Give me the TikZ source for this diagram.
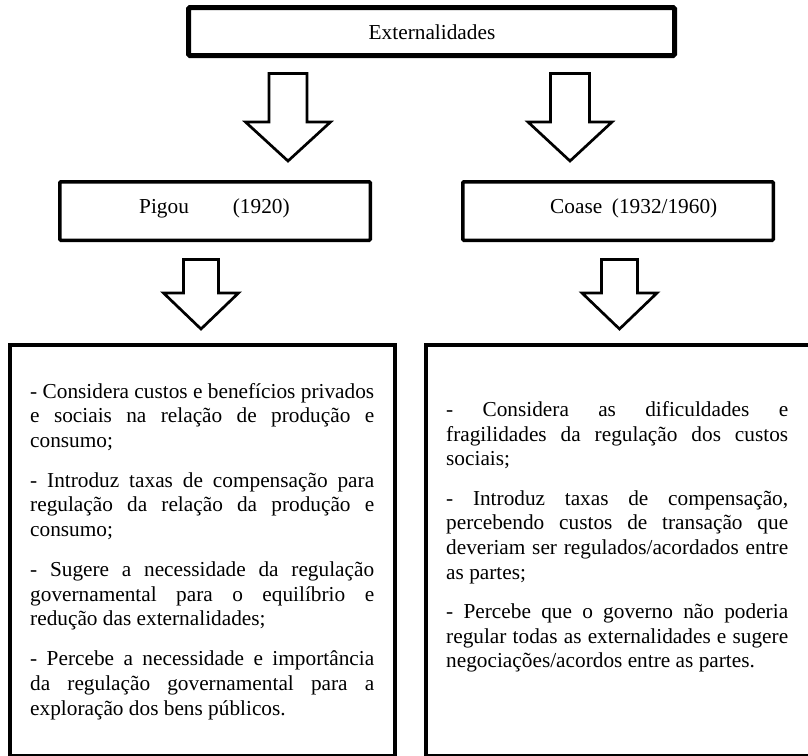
\documentclass[tikz,border=0pt]{standalone}
\usepackage{fontspec}
\setmainfont{Liberation Serif}
\tolerance=10000
\hbadness=10000
\hyphenpenalty=10000
\newcommand{\blkarrow}[6]{%
  \draw[blockarr] ({#1-#5},#2) -- ({#1+#5},#2) -- ({#1+#5},#3) -- ({#1+#6},#3)
    -- (#1,#4) -- ({#1-#6},#3) -- ({#1-#5},#3) -- cycle;}
\begin{document}
\begin{tikzpicture}[x=1pt,y=-1pt,
  thickbox/.style={draw=black,line width=5pt,rounded corners=1.5pt,inner sep=0pt},
  midbox/.style={draw=black,line width=3.5pt,rounded corners=1pt,inner sep=0pt},
  bigbox/.style={draw=black,line width=4pt,inner sep=0pt},
  blockarr/.style={draw=black,fill=white,line width=2.7pt,line join=miter},
  lbl/.style={inner sep=0pt,font=\fontsize{21.3}{24.6}\selectfont},
]
\useasboundingbox (0,0) rectangle (808,755);
\clip (0,0) rectangle (808,755);

% boxes
\node[thickbox,minimum width=486pt,minimum height=48pt] (ext) at (431.5,31.5) {};
\node[midbox,minimum width=310.5pt,minimum height=58.5pt] (pigou) at (215,211) {};
\node[midbox,minimum width=310.5pt,minimum height=58.5pt] (coase) at (618,211) {};
\node[bigbox,minimum width=385pt,minimum height=410.5pt] (pigoubox) at (202.5,550.25) {};
\node[bigbox,minimum width=389.5pt,minimum height=410.5pt] (coasebox) at (620.25,550.25) {};

% labels
\node[lbl,anchor=base] (extlbl) at (432,39) {Externalidades};
\node[lbl,anchor=base west] (pigoulbl) at (139,213) {Pigou\hspace{44pt}(1920)};
\node[lbl,anchor=base west] (coaselbl) at (550,213) {Coase\hspace{9.7pt}(1932/1960)};

% block arrows
\blkarrow{288}{73.5}{122}{161}{19}{42.5}
\blkarrow{570}{73.5}{122}{161}{19.5}{42}
\blkarrow{201}{259.5}{293}{329}{17.5}{37.5}
\blkarrow{619.5}{259.5}{293}{329}{18}{37.5}

% body texts
\node[lbl,anchor=base west] (pigoutext) at (30,398) {\parbox[t]{344pt}{%
\setlength{\parskip}{15.5pt}\setlength{\parindent}{0pt}%
- Considera custos e benefícios privados\linebreak e sociais na relação de produção e\linebreak consumo;\par
- Introduz taxas de compensação para\linebreak regulação da relação da produção e\linebreak consumo;\par
- Sugere a necessidade da regulação\linebreak governamental para o equilíbrio e\linebreak redução das externalidades;\par
- Percebe a necessidade e importância\linebreak da regulação governamental para a\linebreak exploração dos bens públicos.}};

\node[lbl,anchor=base west] (coasetext) at (446,416.5) {\parbox[t]{342pt}{%
\setlength{\parskip}{15pt}\setlength{\parindent}{0pt}%
- Considera as dificuldades e\linebreak fragilidades da regulação dos custos\linebreak sociais;\par
- Introduz taxas de compensação,\linebreak percebendo custos de transação que\linebreak deveriam ser regulados/acordados entre\linebreak as partes;\par
- Percebe que o governo não poderia\linebreak regular todas as externalidades e sugere\linebreak negociações/acordos entre as partes.}};
\end{tikzpicture}
\end{document}
